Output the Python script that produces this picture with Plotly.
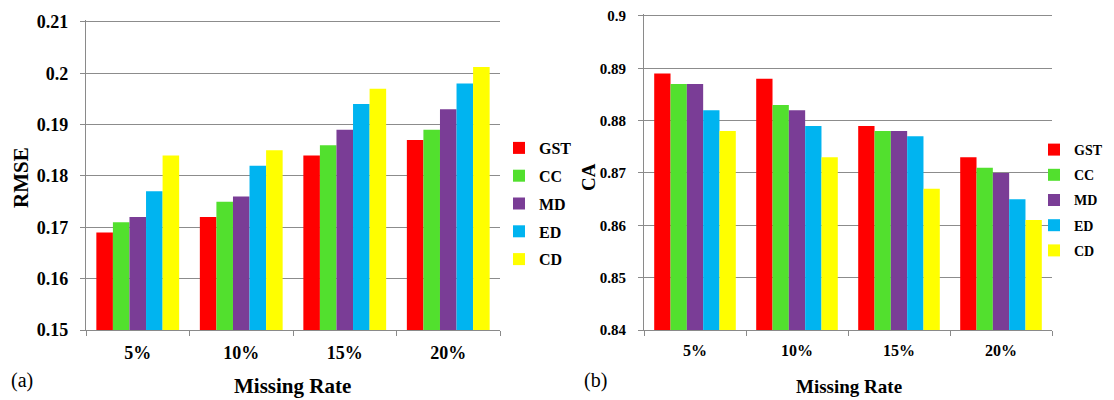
import plotly.graph_objects as go

categories = ["5%", "10%", "15%", "20%"]
methods = ["GST", "CC", "MD", "ED", "CD"]
colors = ["#FF0000", "#52E02E", "#7A3D96", "#00B4F0", "#FFFF00"]

rmse = {
    "GST": [0.169, 0.172, 0.184, 0.187],
    "CC": [0.171, 0.175, 0.186, 0.189],
    "MD": [0.172, 0.176, 0.189, 0.193],
    "ED": [0.177, 0.182, 0.194, 0.198],
    "CD": [0.184, 0.185, 0.197, 0.2012],
}
ca = {
    "GST": [0.889, 0.888, 0.879, 0.873],
    "CC": [0.887, 0.883, 0.878, 0.871],
    "MD": [0.887, 0.882, 0.878, 0.870],
    "ED": [0.882, 0.879, 0.877, 0.865],
    "CD": [0.878, 0.873, 0.867, 0.861],
}

rmse_ticks = [0.15, 0.16, 0.17, 0.18, 0.19, 0.2, 0.21]
rmse_ticktext = ["0.15", "0.16", "0.17", "0.18", "0.19", "0.2", "0.21"]
ca_ticks = [0.84, 0.85, 0.86, 0.87, 0.88, 0.89, 0.9]
ca_ticktext = ["0.84", "0.85", "0.86", "0.87", "0.88", "0.89", "0.9"]

FONT = "Liberation Serif"
OFF = 8  # page body margin
W, H = 1114 - OFF, 400 - OFF


def px(x):
    return (x - OFF) / W


def py(y):
    return 1 - (y - OFF) / H


fig = go.Figure()

for m, c in zip(methods, colors):
    fig.add_trace(go.Bar(
        x=categories, y=rmse[m], name="<b>" + m + "</b>",
        marker=dict(color=c, line=dict(width=0)),
        xaxis="x", yaxis="y", legend="legend", legendgroup="a" + m,
    ))
for m, c in zip(methods, colors):
    fig.add_trace(go.Bar(
        x=categories, y=ca[m], name="<b>" + m + "</b>",
        marker=dict(color=c, line=dict(width=0)),
        xaxis="x2", yaxis="y2", legend="legend2", legendgroup="b" + m,
    ))


def tfont(size):
    return dict(family=FONT, size=size, color="black", weight="bold")


axis_common = dict(
    showline=True, linecolor="#8a8a8a", linewidth=1.2,
    ticks="outside", ticklen=5, tickcolor="#8a8a8a",
    automargin=False, ticklabeloverflow="allow",
)
xaxis_common = dict(tickson="boundaries", showgrid=False, ticklabelstandoff=6, **axis_common)
yaxis_common = dict(showgrid=True, gridcolor="#8c8c8c", gridwidth=1.2, zeroline=False,
                    **axis_common)

legend_common = dict(
    xanchor="left", yanchor="top",
    traceorder="grouped", tracegroupgap=4, itemwidth=30,
    bgcolor="rgba(0,0,0,0)",
)

fig.update_layout(
    width=W, height=H,
    margin=dict(l=0, r=0, t=0, b=0, autoexpand=False),
    paper_bgcolor="white", plot_bgcolor="white",
    barmode="group",
    bargap=0.2, bargroupgap=0,
    xaxis=dict(domain=[px(86), px(500)], anchor="y", tickfont=tfont(18), **xaxis_common),
    yaxis=dict(domain=[py(330), py(20.4)], anchor="x", range=[0.15, 0.2103],
               tickvals=rmse_ticks, ticktext=rmse_ticktext, tickfont=tfont(18),
               ticklabelstandoff=8, **yaxis_common),
    xaxis2=dict(domain=[px(644), px(1052)], anchor="y2", tickfont=tfont(16), **xaxis_common),
    yaxis2=dict(domain=[py(330), py(14.4)], anchor="x2", range=[0.84, 0.9003],
                tickvals=ca_ticks, ticktext=ca_ticktext, tickfont=tfont(15),
                ticklabelstandoff=9, **yaxis_common),
    legend=dict(x=px(499), y=py(131), font=dict(family=FONT, size=16, color="black"),
                **legend_common),
    legend2=dict(x=px(1034), y=py(134), font=dict(family=FONT, size=14, color="black"),
                 **legend_common),
    showlegend=True,
)

ann_font = dict(family=FONT, size=21, color="black", weight="bold")
ann_font2 = dict(family=FONT, size=19, color="black", weight="bold")
lab_font = dict(family=FONT, size=20, color="black")


def note(text, x, y, font, angle=0):
    fig.add_annotation(text=text, x=px(x), y=py(y), xref="paper", yref="paper",
                       xanchor="center", yanchor="middle", textangle=angle,
                       showarrow=False, font=font)


note("RMSE", 21, 178, ann_font, -90)
note("CA", 588, 177, ann_font2, -90)
note("Missing Rate", 292, 386, ann_font)
note("Missing Rate", 849, 386, ann_font2)
note("(a)", 22, 380, lab_font)
note("(b)", 595, 380, lab_font)

fig.write_html("out.html")
